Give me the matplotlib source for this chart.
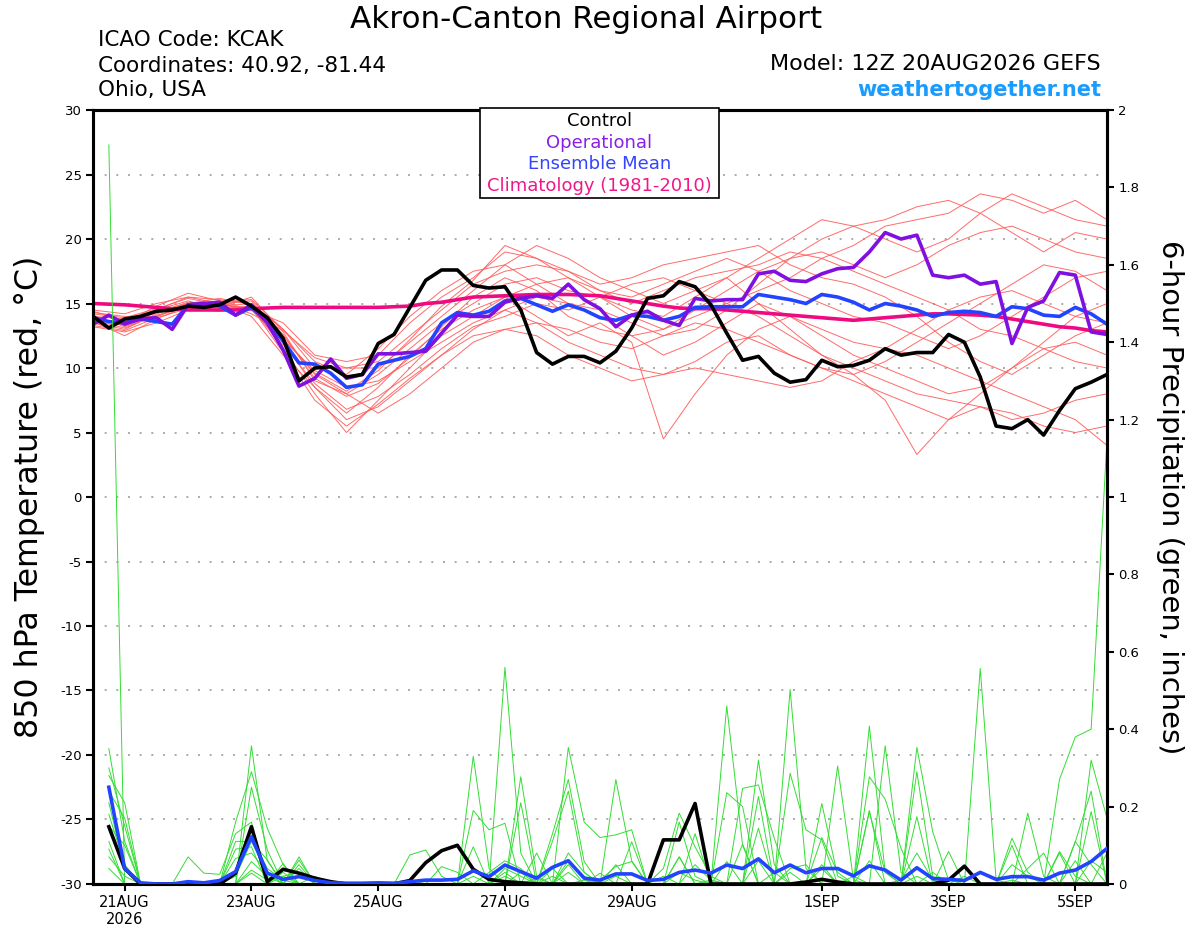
# 用途：GEFS 850hPa 温度 + 6小时降水 集合预报图（Akron-Canton）
import numpy as np
import matplotlib
matplotlib.use("Agg")
import matplotlib.pyplot as plt
from matplotlib.patches import Rectangle

plt.rcParams["font.family"] = ["DejaVu Sans"]
plt.rcParams["axes.unicode_minus"] = False    # 负号用普通连字符

# -----------------------------
# 0) 数据
# -----------------------------
# 时间：自 20AUG 12Z 起的小时数，6小时一步
hours_6h = np.arange(0, 385, 6)          # 65 点（温度）
hours_12h = np.arange(0, 385, 12)        # 33 点（集合成员，12小时取样）
precip_hours = np.arange(6, 385, 6)      # 64 点（6小时降水）

tick_hours = [12, 60, 108, 156, 204, 276, 324, 372]
tick_labels = ["21AUG\n2026", "23AUG", "25AUG", "27AUG", "29AUG", "1SEP", "3SEP", "5SEP"]

control_t = [14.0, 13.1, 13.8, 14.0, 14.4, 14.5, 14.8, 14.7, 14.9, 15.5,
             14.8, 13.9, 12.3, 9.0, 10.0, 10.1, 9.3, 9.5, 11.9, 12.6,
             14.7, 16.8, 17.6, 17.6, 16.4, 16.2, 16.3, 14.5, 11.2, 10.3,
             10.9, 10.9, 10.4, 11.3, 13.1, 15.4, 15.6, 16.7, 16.3, 14.9,
             12.7, 10.6, 10.9, 9.6, 8.9, 9.1, 10.6, 10.1, 10.2, 10.6,
             11.5, 11.0, 11.2, 11.2, 12.6, 12.0, 9.3, 5.5, 5.3, 6.0,
             4.8, 6.7, 8.4, 8.9, 9.5]

oper_t = [13.4, 14.1, 13.4, 13.8, 13.9, 13.0, 14.9, 15.0, 15.1, 14.1,
          14.9, 13.5, 11.4, 8.6, 9.2, 10.7, 9.2, 9.5, 11.1, 11.1,
          11.2, 11.3, 12.7, 14.1, 14.0, 14.0, 15.1, 15.4, 15.6, 15.4,
          16.5, 15.3, 14.6, 13.2, 14.1, 14.4, 13.7, 13.3, 15.4, 15.2,
          15.3, 15.3, 17.3, 17.5, 16.8, 16.7, 17.3, 17.7, 17.8, 19.0,
          20.5, 20.0, 20.3, 17.2, 17.0, 17.2, 16.5, 16.7, 11.9, 14.7,
          15.2, 17.4, 17.2, 12.8, 12.6]

mean_t = [13.9, 13.6, 13.5, 13.8, 13.6, 13.4, 14.9, 15.0, 14.8, 14.1,
          14.7, 13.6, 12.1, 10.4, 10.3, 9.6, 8.5, 8.7, 10.3, 10.6,
          10.9, 11.5, 13.5, 14.3, 14.1, 14.4, 15.2, 15.4, 14.9, 14.4,
          14.9, 14.5, 13.9, 13.7, 14.1, 14.0, 13.7, 14.0, 14.7, 14.75,
          14.75, 14.75, 15.7, 15.5, 15.3, 15.0, 15.7, 15.5, 15.1, 14.5,
          15.0, 14.8, 14.5, 14.0, 14.3, 14.4, 14.3, 14.0, 14.75, 14.6,
          14.1, 14.0, 14.7, 14.2, 13.4]

clim_t = [15.0, 14.95, 14.9, 14.8, 14.7, 14.6, 14.5, 14.5, 14.5, 14.5,
          14.6, 14.65, 14.7, 14.7, 14.7, 14.7, 14.7, 14.7, 14.7, 14.75,
          14.8, 15.0, 15.1, 15.3, 15.5, 15.55, 15.6, 15.65, 15.7, 15.7,
          15.7, 15.65, 15.6, 15.4, 15.2, 15.0, 14.8, 14.65, 14.6, 14.6,
          14.5, 14.4, 14.3, 14.2, 14.1, 14.0, 13.9, 13.8, 13.7, 13.8,
          13.9, 14.0, 14.1, 14.2, 14.2, 14.15, 14.1, 14.0, 13.8, 13.6,
          13.4, 13.2, 13.1, 12.9, 12.8]

# 集合成员温度（12小时取样）
members_t = [
    [13.5, 13.0, 14.2, 15.0, 14.8, 15.0, 12.5, 9.5, 8.0, 9.5, 11.5, 13.5, 15.0, 16.5, 17.0, 16.0, 15.5,
     14.0, 13.0, 14.5, 16.0, 17.5, 18.5, 19.0, 18.0, 17.0, 18.0, 19.5, 20.5, 21.0, 20.0, 19.0, 18.5],
    [14.0, 13.8, 14.5, 15.5, 15.0, 14.5, 12.0, 8.5, 6.0, 7.0, 9.0, 11.0, 13.0, 14.5, 15.5, 15.0, 14.0,
     12.5, 11.0, 12.0, 13.5, 15.0, 14.0, 12.5, 11.0, 10.0, 9.0, 8.0, 8.5, 10.0, 11.5, 12.0, 11.0],
    [13.2, 12.8, 13.5, 14.5, 15.2, 15.3, 13.0, 10.0, 10.0, 10.0, 12.0, 14.0, 16.0, 18.0, 19.5, 18.5, 17.0,
     16.0, 15.0, 16.0, 17.0, 18.5, 20.0, 21.5, 21.0, 20.0, 19.0, 20.0, 22.0, 23.5, 22.5, 21.5, 21.0],
    [14.3, 14.0, 14.0, 14.8, 14.5, 14.8, 11.5, 8.0, 5.0, 7.5, 10.0, 12.5, 14.0, 15.5, 14.0, 12.5, 13.5,
     12.0, 4.5, 8.0, 11.0, 13.0, 14.0, 13.0, 12.0, 11.5, 13.0, 14.5, 15.5, 16.0, 15.0, 14.0, 13.5],
    [13.8, 13.5, 14.8, 15.8, 15.2, 14.5, 13.5, 11.0, 10.5, 11.0, 13.5, 15.5, 17.0, 19.0, 18.5, 17.5, 16.5,
     17.0, 18.0, 18.5, 19.0, 19.5, 18.0, 17.0, 16.5, 15.5, 14.0, 12.0, 10.5, 9.5, 11.0, 12.5, 13.5],
    [14.1, 13.2, 14.0, 15.0, 14.7, 15.5, 12.8, 9.0, 8.0, 6.5, 8.0, 10.0, 12.0, 13.0, 13.5, 12.0, 11.0,
     10.0, 9.5, 10.5, 12.0, 12.5, 11.0, 10.0, 9.0, 8.0, 7.0, 6.0, 7.0, 6.5, 5.5, 5.0, 5.5],
    [13.6, 12.5, 13.8, 14.8, 15.0, 14.0, 11.0, 8.5, 6.5, 8.5, 11.0, 13.0, 14.5, 15.5, 16.5, 17.0, 15.5,
     14.5, 14.0, 15.5, 17.0, 15.0, 13.0, 11.0, 9.5, 7.5, 3.3, 6.0, 8.0, 10.0, 12.0, 14.0, 15.0],
    [14.5, 14.2, 15.0, 15.5, 15.3, 15.0, 13.0, 10.5, 9.5, 11.5, 14.0, 16.0, 17.5, 18.0, 16.5, 15.0, 14.5,
     13.5, 12.5, 13.0, 14.5, 16.5, 18.5, 20.0, 21.0, 21.5, 22.5, 23.0, 22.0, 20.5, 19.0, 20.5, 20.0],
    [13.4, 13.6, 14.5, 15.2, 14.6, 14.8, 12.2, 9.8, 8.5, 9.0, 10.5, 12.0, 13.5, 14.5, 13.5, 13.0, 12.0,
     11.5, 12.5, 13.5, 13.0, 12.0, 11.0, 10.0, 9.5, 10.5, 12.0, 13.5, 15.0, 16.5, 18.0, 17.5, 16.0],
    [13.9, 13.3, 14.3, 15.1, 15.0, 15.2, 12.6, 9.2, 7.8, 8.8, 10.8, 13.2, 15.5, 17.0, 16.0, 14.0, 13.0,
     12.5, 13.0, 14.0, 15.0, 16.0, 17.0, 18.5, 19.5, 21.0, 21.5, 22.0, 23.5, 23.0, 22.0, 23.0, 21.5],
    [14.2, 13.9, 14.6, 15.4, 14.9, 14.6, 11.8, 8.8, 6.8, 7.8, 9.5, 11.5, 13.2, 14.0, 15.0, 14.5, 15.5,
     16.5, 17.0, 16.0, 15.0, 14.0, 12.5, 11.0, 10.0, 9.0, 8.0, 7.5, 7.0, 6.0, 6.5, 7.5, 8.0],
    [13.7, 13.1, 14.1, 14.7, 15.1, 14.2, 12.9, 10.8, 10.0, 10.5, 12.5, 14.5, 16.5, 17.5, 18.0, 17.5, 16.0,
     15.0, 16.0, 17.0, 17.5, 18.0, 19.0, 18.5, 17.5, 16.5, 15.5, 14.5, 13.0, 12.5, 11.5, 10.5, 10.0],
    [14.4, 13.7, 14.4, 15.0, 15.4, 14.9, 12.3, 9.6, 8.2, 9.8, 12.2, 14.8, 16.8, 19.5, 18.5, 17.0, 16.0,
     15.5, 16.5, 17.5, 18.5, 17.5, 16.0, 15.0, 14.0, 13.5, 12.5, 11.5, 12.5, 14.0, 15.5, 17.0, 17.5],
    [13.3, 12.9, 13.9, 14.6, 14.4, 14.7, 11.2, 7.5, 5.5, 7.2, 9.2, 11.0, 12.5, 13.0, 12.5, 11.0, 10.0,
     9.0, 9.5, 10.0, 9.5, 9.0, 8.5, 9.0, 10.5, 11.5, 11.0, 10.0, 9.0, 8.0, 7.0, 6.0, 4.0],
]

# 降水（英寸 / 6小时），第 1..64 步
control_p = [0.148, 0.04, 0, 0, 0, 0, 0, 0, 0.028, 0.148,
             0.006, 0.038, 0.028, 0.015, 0.006, 0, 0, 0, 0, 0.009,
             0.055, 0.086, 0.10, 0.038, 0.012, 0.006, 0.003, 0, 0, 0,
             0, 0, 0, 0, 0, 0.114, 0.114, 0.208, 0, 0,
             0, 0, 0, 0, 0.005, 0.012, 0.005, 0, 0, 0,
             0, 0, 0, 0.01, 0.046, 0, 0, 0, 0, 0,
             0, 0, 0, 0]

mean_p = [0.25, 0.04, 0.003, 0, 0, 0.006, 0.003, 0.009, 0.032, 0.122,
          0.028, 0.012, 0.019, 0.009, 0.003, 0.002, 0.002, 0.003, 0.002, 0.006,
          0.01, 0.01, 0.012, 0.034, 0.019, 0.049, 0.032, 0.015, 0.043, 0.06,
          0.015, 0.01, 0.026, 0.026, 0.009, 0.012, 0.03, 0.036, 0.028, 0.049,
          0.04, 0.065, 0.029, 0.049, 0.029, 0.04, 0.04, 0.021, 0.047, 0.036,
          0.01, 0.042, 0.014, 0.012, 0.009, 0.03, 0.012, 0.019, 0.019, 0.01,
          0.028, 0.036, 0.058, 0.092]

# 集合成员降水：只列出非零的步（步号: 数值）
members_p = [
    {1: 1.91, 9: 0.02, 10: 0.11, 11: 0.03, 24: 0.33, 25: 0.04, 33: 0.05, 40: 0.46, 41: 0.10,
     49: 0.19, 52: 0.02, 62: 0.11, 63: 0.05},
    {1: 0.35, 2: 0.11, 10: 0.357, 11: 0.06, 13: 0.07, 26: 0.56, 27: 0.08, 30: 0.05, 37: 0.07,
     44: 0.503, 45: 0.04, 58: 0.10, 61: 0.08},
    {1: 0.28, 2: 0.21, 9: 0.16, 10: 0.29, 11: 0.144, 12: 0.05, 20: 0.075, 21: 0.088, 22: 0.02,
     27: 0.277, 28: 0.02, 33: 0.27, 34: 0.06, 42: 0.32, 43: 0.05, 50: 0.357, 51: 0.03, 63: 0.187},
    {1: 0.24, 2: 0.17, 10: 0.25, 11: 0.088, 13: 0.062, 24: 0.19, 25: 0.14, 26: 0.157, 30: 0.353,
     31: 0.16, 32: 0.12, 33: 0.127, 34: 0.14, 38: 0.13, 47: 0.305, 48: 0.01, 56: 0.557, 57: 0.01},
    {1: 0.21, 2: 0.04, 6: 0.07, 7: 0.028, 8: 0.025, 9: 0.13, 10: 0.16, 12: 0.053, 27: 0.21,
     29: 0.13, 30: 0.27, 31: 0.058, 41: 0.247, 42: 0.256, 43: 0.118, 49: 0.408, 50: 0.03,
     59: 0.183, 60: 0.02},
    {1: 0.18, 2: 0.05, 9: 0.11, 10: 0.11, 11: 0.062, 13: 0.05, 24: 0.096, 29: 0.11, 30: 0.24,
     31: 0.03, 36: 0.04, 37: 0.183, 38: 0.096, 39: 0.02, 46: 0.208, 47: 0.02, 52: 0.353,
     53: 0.135, 54: 0.01},
    {1: 0.11, 9: 0.09, 10: 0.096, 12: 0.03, 28: 0.08, 32: 0.028, 34: 0.109, 40: 0.236, 41: 0.20,
     44: 0.286, 45: 0.14, 46: 0.114, 52: 0.29, 53: 0.02, 61: 0.27, 62: 0.38, 63: 0.40, 64: 1.15},
    {1: 0.09, 9: 0.066, 10: 0.08, 11: 0.03, 14: 0.02, 22: 0.045, 23: 0.03, 27: 0.03, 29: 0.04,
     32: 0.01, 33: 0.045, 34: 0.058, 37: 0.16, 38: 0.02, 42: 0.226, 49: 0.277, 50: 0.219,
     51: 0.092, 63: 0.32, 64: 0.17},
    {1: 0.04, 10: 0.058, 11: 0.02, 13: 0.04, 20: 0.01, 26: 0.03, 30: 0.06, 31: 0.02, 37: 0.07,
     40: 0.058, 42: 0.144, 46: 0.04, 49: 0.187, 50: 0.03, 52: 0.174, 54: 0.084, 58: 0.118,
     59: 0.03, 62: 0.109, 63: 0.24},
    {1: 0.30, 2: 0.15, 10: 0.036, 11: 0.01, 12: 0.02, 26: 0.02, 28: 0.015, 30: 0.03, 39: 0.01,
     41: 0.103, 43: 0.03, 46: 0.12, 47: 0.03, 55: 0.02, 58: 0.01, 61: 0.084, 62: 0.02, 64: 0.08},
    {1: 0.15, 2: 0.10, 10: 0.028, 12: 0.02, 13: 0.03, 24: 0.02, 26: 0.04, 27: 0.02, 29: 0.02,
     31: 0.01, 33: 0.02, 37: 0.03, 38: 0.01, 44: 0.04, 45: 0.05, 48: 0.02, 53: 0.03, 59: 0.04,
     60: 0.08, 63: 0.06, 64: 0.03},
    {1: 0.07, 2: 0.02, 9: 0.03, 10: 0.12, 11: 0.04, 12: 0.01, 25: 0.03, 26: 0.06, 27: 0.04,
     30: 0.08, 31: 0.03, 36: 0.02, 38: 0.05, 39: 0.01, 42: 0.06, 44: 0.03, 46: 0.05, 49: 0.06,
     51: 0.01, 52: 0.08, 53: 0.01, 58: 0.05, 59: 0.02, 62: 0.06},
]

# -----------------------------
# 1) 画布与坐标轴
# -----------------------------
fig = plt.figure(figsize=(12, 9.27), dpi=100)
ax = fig.add_axes([0.0775, 0.0464, 0.845, 0.8349])
ax2 = ax.twinx()

RED = "#ff5a5a"
GREEN = "#33dd33"
BLACK = "black"
PURPLE = "#7f10e0"
BLUE = "#2244ff"
PINK = "#ee0a80"

# 温度：集合成员 + 主线
for m in members_t:
    ax.plot(hours_12h, m, color=RED, lw=0.7, alpha=0.9, zorder=2)
ax.plot(hours_6h, clim_t, color=PINK, lw=2.6, zorder=3)
ax.plot(hours_6h, mean_t, color=BLUE, lw=2.6, zorder=4)
ax.plot(hours_6h, oper_t, color=PURPLE, lw=2.6, zorder=5)
ax.plot(hours_6h, control_t, color=BLACK, lw=2.6, zorder=6)

# 降水：集合成员 + 控制/平均
for d in members_p:
    arr = np.zeros(len(precip_hours))
    for step, val in d.items():
        arr[step - 1] = val
    ax2.plot(precip_hours, arr, color=GREEN, lw=0.7, zorder=2)
ax2.plot(precip_hours, control_p, color=BLACK, lw=2.6, zorder=4)
ax2.plot(precip_hours, mean_p, color=BLUE, lw=2.6, zorder=5)

ax.set_xlim(0, 384)
ax.set_ylim(-30, 30)
ax2.set_ylim(0, 2)
ax.set_yticks(np.arange(-30, 31, 5))
ax2.set_yticks(np.arange(0, 2.01, 0.2))
ax2.set_yticklabels(["0", "0.2", "0.4", "0.6", "0.8", "1", "1.2", "1.4", "1.6", "1.8", "2"])
ax.set_xticks(tick_hours)
ax.set_xticklabels(tick_labels)

# 虚线网格（只对温度轴）
for yv in range(-25, 30, 5):
    ax.axhline(yv, color="#aaaaaa", lw=1.4, ls=(0, (1, 5)), zorder=1)

for a in (ax, ax2):
    for s in a.spines.values():
        s.set_linewidth(2.2)
ax.tick_params(axis="y", labelsize=9.5, width=1.5, length=5, pad=3)
ax.tick_params(axis="x", labelsize=10.5, width=1.5, length=5, pad=3)
ax2.tick_params(axis="y", labelsize=9.5, width=1.5, length=5, pad=3)

# -----------------------------
# 2) 文字
# -----------------------------
fig.text(0.025, 0.4639, "850 hPa Temperature (red, °C)", rotation=90,
         ha="center", va="center", fontsize=22.8)
fig.text(0.975, 0.4639, "6-hour Precipitation (green, inches)", rotation=-90,
         ha="center", va="center", fontsize=20.9)

fig.text(0.488, 0.9795, "Akron-Canton Regional Airport", ha="center", va="center", fontsize=22.3)
fig.text(0.0817, 0.9569, "ICAO Code: KCAK", ha="left", va="center", fontsize=15.5)
fig.text(0.0817, 0.9288, "Coordinates: 40.92, -81.44", ha="left", va="center", fontsize=15.5)
fig.text(0.0817, 0.9029, "Ohio, USA", ha="left", va="center", fontsize=15.5)
fig.text(0.9175, 0.931, "Model: 12Z 20AUG2026 GEFS", ha="right", va="center", fontsize=16)
fig.text(0.9175, 0.903, "weathertogether.net", ha="right", va="center", fontsize=15,
         fontweight="bold", color="#1a9cff")

# 图例框
fig.patches.append(Rectangle((0.4, 0.7864), 0.199, 0.0971, transform=fig.transFigure,
                             facecolor="white", edgecolor="black", lw=1.2, zorder=10))
legend_items = [("Control", BLACK), ("Operational", "#8a20e6"),
                ("Ensemble Mean", "#3344ff"), ("Climatology (1981-2010)", "#f01888")]
for k, (txt, col) in enumerate(legend_items):
    fig.text(0.4995, 0.8695 - k * 0.0234, txt, ha="center", va="center",
             fontsize=13, color=col, zorder=11)

fig.savefig("out.png", dpi=100)
